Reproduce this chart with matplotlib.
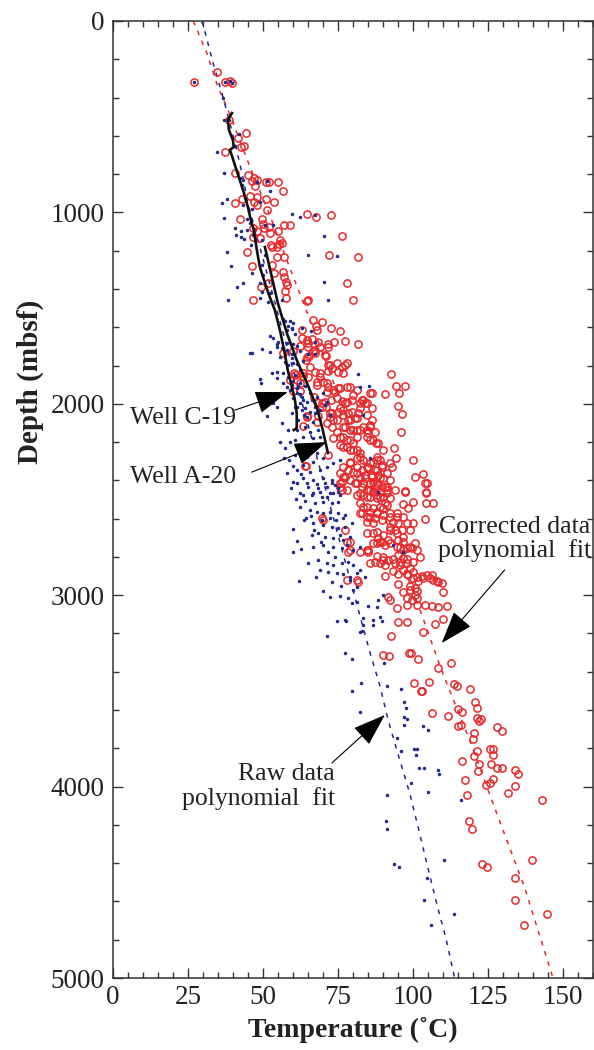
import numpy as np
import matplotlib
matplotlib.use('Agg')
import matplotlib.pyplot as plt
from matplotlib.ticker import MultipleLocator

plt.rcParams['font.family'] = ['Liberation Serif', 'DejaVu Serif']

# corrected data (temperature C, depth mbsf)
corrected = [
    (27,319),(34.7,266),(37.3,319),(39,313),(39.7,324),(38.7,517),(44.3,585),(41.7,611),(42.7,658),(43.7,653),
    (37.3,684),(40.7,794),(45,805),(46.3,836),(47,820),(48,831),(51,841),(52,841),(55,841),(47.3,862),
    (56.7,888),(45.7,914),(48,920),(51,930),(40.7,951),(43,930),(47,946),(48,961),(53.7,946),(51.3,988),
    (42.3,1035),(49.7,1035),(50,1061),(57,1066),(59,1066),(64.7,1008),(67.7,1024),(72.7,1014),(76.3,1123),
    (46.7,1082),(48,1097),(50.3,1082),(52,1076),(55,1097),(52.3,1108),(46.7,1129),(49,1134),(55.7,1144),
    (56.3,1160),(55.3,1165),(52.7,1170),(53,1181),(54.7,1181),(44.7,1207),(54.7,1233),(57,1233),(72,1223),
    (81.7,1233),(56.7,1312),(57,1338),(57.7,1364),(58,1380),(57.3,1411),(57.7,1448),(65,1458),(78,1369),
    (80,1458),(66.7,1562),(67.7,1594),(68,1615),(69.7,1573),(72.7,1604),(75.7,1620),(63,1615),(63,1656),
    (64.7,1667),(66.3,1662),(65,1683),(68.3,1677),(62.3,1698),(65,1703),(71.7,1688),(71.7,1703),(73.7,1677),
    (77.3,1672),(81.7,1688),(60,1724),(66.7,1724),(65.3,1750),(71,1750),(56.7,1735),(46.3,1280),(53,1275),
    (53.7,1317),(49.3,1390),(51.7,1369),(46.7,1458),(64.7,1463),(69,1703),(67.3,1719),(64.3,1771),(78,1787),
    (77.3,1797),(76.3,1808),(72.3,1797),(73,1813),(71.7,1829),(75,1834),(76.7,1839),(60.3,1839),(61.3,1876),
    (67.3,1834),(69,1860),(70,1886),(71.3,1891),(71.7,1912),(68,1886),(68,1902),(62.3,1891),(63.3,1855),
    (73.3,1928),(74,1938),(75,1918),(78,1912),(67,1965),(68,1991),(69.7,1996),(71,2017),(72.7,1980),
    (74.7,1970),(76.3,1986),(78,1991),(73,2048),(75,2043),(76.7,2033),(78.3,2048),(64.7,2064),(68.3,2064),
    (92.7,1844),(94.3,1907),(97.3,1907),(95.3,1944),(90.7,1949),(86.3,1944),(95,2012),(96.3,2053),(96,2147),
    (93.7,2231),(94.3,2283),(100,2294),(103.3,2367),(100.7,2383),(104.7,2414),(97.3,2456),(104.3,2461),
    (93,2330),(79,1912),(81.3,1928),(80,1954),(83,1980),(84.7,1996),(82.3,1996),(86.3,2085),(85.7,2111),
    (84.7,2137),(85,2152),(85.7,2189),(87.7,2205),(79.7,2043),(81.7,2048),(80.7,2074),(78.3,2085),
    (77.3,2121),(80,2137),(82.3,2137),(81.3,2174),(79,2189),(76.7,2174),(74.7,2147),(73.3,2179),(75.7,2215),
    (78,2226),(80,2241),(82.3,2257),(81.3,2283),(79,2304),(76.7,2330),(78.3,2346),(81.3,2362),(83,2346),
    (84.7,2330),(86.7,2304),(88,2278),(89,2294),(89.7,2320),(88,2346),(86.3,2372),(84,2388),(86.7,2409),
    (89,2388),(87.3,2435),(85,2451),(83,2435),(80.7,2414),(82.3,2466),(84.7,2487),(88,2477),(90.7,2435),
    (91.3,2466),(77.3,2383),(75.7,2362),(76.3,2409),(70.7,1991),(69.7,2017),(72.3,2048),(73.3,2085),
    (71.3,2101),(73,2121),(92.3,2309),(92.3,2398),(64.7,2069),(68,2095),(64.3,2325),(71.7,2268),(75.7,2414),
    (76.3,2451),(81.3,2477),(83.3,2477),(85.7,2451),(88,2425),(89,2487),(91.3,2435),(90.7,2519),(94,2451),
    (97.3,2461),(104,2414),(104.3,2466),(104.3,2519),(106.7,2519),(100,2513),(96.7,2524),(98.3,2545),
    (104,2602),(83.3,2540),(85.7,2566),(83,2571),(85.7,2592),(88,2566),(87.3,2597),(90,2545),(84.7,2618),
    (86.7,2623),(89.7,2607),(92.3,2571),(94.7,2592),(93.3,2618),(95,2623),(92.3,2644),(94,2660),(96.3,2660),
    (98,2623),(100,2623),(96.7,2592),(99,2660),(86.7,2675),(88.3,2701),(90,2686),(91.7,2712),(88,2727),
    (90.7,2738),(89.7,2722),(95,2712),(96.7,2722),(95.7,2748),(98,2753),(99.7,2753),(100.7,2727),(101.3,2764),
    (95,2790),(96.7,2806),(94,2832),(95.7,2842),(98,2832),(96.7,2868),(99,2858),(100,2879),(98.3,2895),
    (101.3,2905),(103,2900),(104.7,2895),(106.3,2895),(106.7,2921),(108.3,2931),(90,2816),(91.7,2816),
    (90.7,2842),(89,2832),(85.7,2832),(87.3,2827),(90.7,2900),(84.7,2764),(85,2774),(79,2722),(78.3,2774),
    (77.3,2660),(70,2607),(81.3,2921),(81.7,2931),(96.7,2984),(99,2973),(100.7,2963),(100.7,2999),(98,3015),
    (99.7,3025),(101.3,3015),(110,2984),(91.7,3010),(92.3,3025),(94.7,3067),(98,3051),(101.3,3051),(104,3051),
    (106.3,3057),(108.3,3062),(111.3,3057),(95,3140),(98,3140),(103.3,3192),(107.3,3151),(110,3124),
    (92.7,3213),(90,3313),(92,3318),(98.7,3302),(99.3,3302),(101.7,3334),(112.7,3354),(108.3,3380),
    (100.3,3459),(102.7,3501),(103,3501),(105.3,3454),(113.7,3464),(114.7,3475),(119,3490),(120.7,3558),
    (121.3,3590),(115,3595),(116.3,3610),(106.3,3616),(111.7,3631),(121.3,3642),(122,3658),(122.7,3647),
    (115,3684),(116,3678),(128,3689),(129.7,3710),(120.3,3720),(120,3752),(121.3,3814),(125.7,3804),
    (126.7,3804),(126.7,3835),(120.3,3840),(116.3,3866),(122,3882),(121.7,3919),(126,3882),(128,3903),
    (129.7,3903),(134.3,3913),(135,3934),(117.3,3966),(126.7,3960),(125.7,3981),(124.3,3992),(134,3997),
    (131.7,4034),(118,4044),(143,4070),(118.7,4180),(119.7,4222),(123,4405),(124.7,4420),(139.7,4384),
    (134.3,4478),(134.3,4593),(144.7,4666),(137.3,4723),
    (64.7,1756),(67.3,1735),(70.7,1745),(65.7,1808),(69,1839),(71.7,1797),(74.7,1787),(63.3,1839),(65,1860),
    (75.7,1918),(71.3,1938),(83.3,1980),(79.7,1980),(77.3,1996),(75.7,2022),(85.7,1944),(84,1996),(82.3,2022),
    (86.3,2022),(84.7,2059),(72.3,2069),(74.7,2085),(76.7,2059),(79,2085),(81.3,2074),(76.7,2121),(79,2137),
    (81.3,2137),(83.3,2121),(85.7,2121),(87.3,2147),(84.7,2174),(86.7,2189),(88.3,2205),(90,2241),(75.7,2174),
    (78,2189),(80,2205),(76.7,2226),(79,2241),(81.3,2241),(82.3,2278),(83.3,2294),(85.7,2309),(88,2294),
    (85,2335),(87.3,2346),(89.7,2330),(84,2372),(86.3,2383),(88.3,2372),(90,2388),(91.3,2362),(79,2309),
    (81.3,2330),(80,2356),(82.3,2388),(79,2398),(81.3,2414),(76.7,2383),(83.3,2414),(85.7,2414),(88,2414),
    (89.7,2435),(84.7,2451),(86.7,2461),(89,2461),(91.3,2451),(85.7,2487),(88,2492),(90,2487),(92.3,2492),
    (75.7,2435),(78,2451),(82.3,2519),(84.7,2540),(86.7,2545),(89,2540),(91.3,2529),(82.3,2571),(84.7,2592),
    (88,2571),(90,2581),(92.3,2592),(94.7,2571),(84.7,2675),(88,2670),(92.3,2660),(94.7,2675),(96.7,2696),
    (86.7,2727),(89,2722),(92.3,2727),(94.7,2748),(96.7,2764),(99,2748),(88,2796),(90,2801),(93.3,2811),
    (95.7,2827),(98,2811),(100,2827),(102.3,2801),(79,2764),(82.3,2774),(85,2764),(93.3,2874),(95,2889),
    (98,2889),(100,2910),(101.7,2926),(103.3,2910),(105.7,2910),(108,2926),(109.7,2937),(95,2942),(99,2952),
    (101.3,2978),(78,2921),(78,2722),(69.7,2597),(64,2325),(63.3,2116),(59,1876),(60.7,1850),(62.3,1933),
    (60,1933),
]

# raw data (temperature C, depth mbsf)
raw = [
    (27,319),(37.3,319),(39,313),(39.7,324),(38.7,517),(36.7,402),(37,517),(34.7,684),(42,590),(40.7,653),
    (37,794),(42.3,820),(43.3,831),(43,857),(48,841),(51.3,836),(38,930),(36.3,951),(44,925),(43.3,961),
    (49,946),(52.3,888),(46.3,982),(37,1029),(44.7,1035),(45.7,1055),(40.7,1082),(42.7,1097),(41,1118),
    (42.7,1129),(43.7,1139),(46,1170),(46.7,1118),(47.3,1144),(44.7,1092),(50.7,1066),(53.3,1066),(49.7,1144),
    (59.7,1008),(62.3,1024),(67.3,1014),(70.3,1123),(65,1223),(74.7,1228),(38,1207),(70.3,1364),(71.7,1458),
    (56.3,1458),(60,1578),(57.3,1568),(58.3,1594),(58,1615),(63,1604),(66,1620),(67.3,1677),(58,1683),
    (61.3,1698),(59.7,1740),(56.7,1709),(39.3,1280),(46.3,1317),(49.7,1275),(50,1327),(49,1369),(49.7,1416),
    (50.7,1223),(43.3,1369),(41.3,1390),(38.3,1458),(49,1448),(51.7,1468),(52.3,1421),(56.7,1557),(59,1568),
    (59.7,1609),(53.3,1656),(55,1677),(54.7,1703),(56.3,1709),(58,1719),(46.3,1735),(49.7,1714),(52.3,1729),
    (55.7,1756),(57.3,1782),(58.3,1797),(60,1787),(54.7,1834),(56.7,1839),(58.3,1860),(60.7,1850),(62.3,1824),
    (49,1871),(49.3,1891),(53,1839),(54.7,1865),(56.7,1891),(58,1912),(59.7,1902),(61.3,1918),(59,1928),
    (62.3,1891),(61.3,1944),(63,1965),(60,1970),(62.3,1996),(64.7,1991),(64,2022),(61.3,2017),(59.7,2048),
    (51.3,2064),(54.7,2017),(53.3,1996),(63.7,2059),(65.7,2043),(67.3,2017),(67.3,2048),(69,2033),(70.7,2007),
    (72.3,2059),(52.3,1645),(54.7,1688),(45.7,1735),(56.3,2101),(55.7,2200),(57.3,2231),(59.7,1604),
    (60.7,1635),(60,1688),(62.3,1724),(59.7,1761),(61.3,1792),(63.3,1777),(65,1740),(67.3,1740),(60,1881),
    (61.7,1907),(64,1907),(65.7,1944),(62.3,1949),(63.3,1980),(66.3,1980),(68,1965),(70,1944),(71.3,1991),
    (60.7,2017),(63,2033),(68,2043),(64.7,2069),(61.7,2085),(66.7,2095),(64,2121),(61.3,2137),(65.7,2147),
    (68.3,2137),(63.3,2174),(66.7,2179),(69,2174),(60.7,2189),(62.3,2231),(60.7,2268),(64.7,2278),(68,2257),
    (70,2283),(66.7,2304),(63.3,2320),(61.3,2346),(65.7,2356),(69,2346),(71.3,2330),(73.3,2309),(75.7,2294),
    (63.3,2388),(66.7,2398),(70,2388),(73,2398),(61.3,2414),(65,2435),(68.3,2440),(71.3,2435),(74,2425),
    (62.3,2466),(66.3,2477),(69.7,2487),(72.3,2466),(75,2461),(81.7,1844),(82.3,1912),(85.3,1907),(83.3,2059),
    (85.7,2283),(88.3,2461),(60,2409),(64.7,2414),(68,2419),(70.7,2414),(73,2414),(75,2440),(63.3,2477),
    (66.7,2466),(69,2461),(71.3,2487),(73.3,2466),(75.7,2477),(67.3,2519),(70,2513),(73,2519),(75,2513),
    (65.7,2555),(68,2566),(70,2571),(72.3,2566),(75,2571),(77.3,2581),(69.7,2607),(72.3,2597),(74.3,2607),
    (76.7,2597),(66.7,2623),(70,2633),(73,2644),(75,2649),(77.3,2644),(79.7,2623),(60,2654),(61.3,2717),
    (60,2774),(62.7,2759),(66.3,2686),(68.3,2675),(70.7,2696),(73.3,2701),(75.7,2686),(76.7,2712),(79,2696),
    (66.7,2748),(70,2738),(73.3,2748),(76.3,2753),(78,2738),(80,2764),(82.3,2748),(68.3,2816),(71.3,2832),
    (73.3,2842),(76.3,2832),(78.3,2827),(80,2842),(82.3,2868),(71.7,2879),(74.7,2884),(76.7,2889),(79,2905),
    (81.3,2884),(84,2905),(62,2926),(79,2921),(81.3,2957),(80,2973),(72.3,3010),(75.7,3004),(78.3,3015),
    (79.7,3041),(81.3,3036),(85,3057),(88,3062),(90,2999),(88.3,3025),(74.7,3135),(77.3,3130),(83.3,3119),
    (83.3,3156),(86.7,3130),(89,3114),(71.3,3213),(82.3,3192),(93.3,2738),(96.7,2774),(77.7,3135),(83,3187),
    (86.7,3156),(89.7,3135),(77.3,3302),(79.7,3334),(82.7,3459),(79.7,3501),(90.3,3354),(91.3,3475),(96,3490),
    (82.3,3610),(97,3558),(97.7,3590),(97,3636),(98,3647),(97,3678),(103.3,3684),(105,3704),(94.7,3746),
    (96,3814),(100.3,3804),(101.3,3804),(101,3835),(102,3903),(103.7,3903),(108.3,3913),(108.7,3934),
    (99.3,3981),(105,4028),(91.3,4044),(116,4070),(91,4180),(91.3,4222),(93.7,4405),(95.3,4420),(110.3,4384),
    (104.7,4478),(103.7,4593),(113.7,4666),(106,4723),
    (58.7,2294),(60,2325),(62.7,2367),(59.3,2440),(61,2498),(64,2508),(62.3,2540),(66,2586),(63.7,2607),
    (58,2362),(57,2283),(59,2200),(58.3,2137),(64.3,2597),(67,2660),(69.3,2722),(71.7,2774),(74,2800),
    (69,2868),(73,2931),(76,2952),(65,2832),(67.7,2905),(70,2978),
]

# polynomial fits
corr_fit_depth = [0, 167, 345, 465, 742, 1014, 1290, 1520, 3114, 3407, 3757, 4138, 4525, 5000]
corr_fit_temp = [26.8, 31.3, 35, 38.4, 45.2, 52.3, 59, 64.7, 103.3, 110, 119, 128, 137.3, 146.8]
raw_fit_depth = [0, 63, 220, 402, 637, 820, 951, 3067, 3297, 3469, 3652, 3825, 4034, 4211, 4420, 4629, 4786, 5000]
raw_fit_temp = [29.6, 30.8, 33.4, 36.8, 40.7, 43.4, 45, 81.7, 85.7, 89, 91.8, 95, 99, 101.8, 105, 108.3, 111, 114]

# well temperature logs
c19_temp = [39.7, 38.3, 38.7, 40, 40.3, 39, 39.7, 41, 42.3, 43.7, 45, 46, 47, 48, 49, 50.7, 52.3, 54, 55.7,
            57.3, 58.3, 59.7, 60.7, 61.3, 61.3, 60.3]
c19_depth = [481, 517, 570, 622, 658, 674, 705, 768, 831, 899, 972, 1040, 1092, 1197, 1285, 1369, 1442, 1510,
             1615, 1735, 1824, 1912, 1980, 2048, 2127, 2137]
a20_temp = [50.7, 53, 55, 58, 61.3, 64.7, 68, 70, 71.7]
a20_depth = [1181, 1338, 1473, 1630, 1771, 1891, 2017, 2137, 2257]

corr = np.array(corrected)
rw = np.array(raw)

red = '#e8292b'
blue = '#222a8c'
txt = '#222222'

fig = plt.figure(figsize=(5.94, 10.5), dpi=100)
ax = fig.add_axes([113/594, 1-978/1050, 479.5/594, 957/1050])

ax.plot(corr_fit_temp, corr_fit_depth, color=red, ls=(0, (3, 4)), lw=1.1, zorder=1)
ax.plot(raw_fit_temp, raw_fit_depth, color=blue, ls=(0, (3, 4)), lw=1.1, zorder=1)
ax.plot(corr[:, 0], corr[:, 1], 'o', mfc='none', mec=red, ms=5.2, mew=1.1, ls='none', zorder=2)
ax.plot(rw[:, 0], rw[:, 1], '.', color=blue, ms=3, ls='none', zorder=3)
ax.plot(c19_temp, c19_depth, color='#111111', lw=1.9, zorder=4)
ax.plot(a20_temp, a20_depth, color='#111111', lw=1.9, zorder=4)

ax.set_xlim(0, 160)
ax.set_ylim(5000, 0)
ax.xaxis.set_major_locator(MultipleLocator(25))
ax.xaxis.set_minor_locator(MultipleLocator(5))
ax.yaxis.set_major_locator(MultipleLocator(1000))
ax.yaxis.set_minor_locator(MultipleLocator(200))
ax.tick_params(which='both', direction='in', top=True, right=True, colors='#333333',
               labelcolor=txt, labelsize=19.5, width=1.0)
ax.tick_params(which='major', length=7)
ax.tick_params(axis='x', which='major', pad=5)
ax.tick_params(axis='y', which='major', pad=6)
ax.tick_params(which='minor', length=4)
for s in ax.spines.values():
    s.set_linewidth(1.1)
    s.set_color('#333333')

ax.set_xlabel('Temperature (˚C)', fontsize=20, fontweight='bold', color=txt, labelpad=5)
fig.text(30/594, 1-382/1050, 'Depth (mbsf)', rotation=90, fontsize=21, fontweight='bold',
         color=txt, ha='center', va='center')

arr = dict(arrowstyle='-|>,head_length=1.3,head_width=0.45', mutation_scale=16,
           color='k', lw=0.8, shrinkA=0, shrinkB=0)
fs = 18.5
ax.text(5.7, 2074, 'Well C-19', fontsize=fs, color=txt, ha='left', va='center')
ax.annotate('', xy=(58.3, 1939), xytext=(40.7, 2033), arrowprops=arr)
ax.text(5.7, 2383, 'Well A-20', fontsize=fs, color=txt, ha='left', va='center')
ax.annotate('', xy=(71.3, 2200), xytext=(46.3, 2357), arrowprops=arr)
ax.text(134, 2644, 'Corrected data', fontsize=fs, color=txt, ha='center', va='center')
ax.text(134, 2769, 'polynomial  fit', fontsize=fs, color=txt, ha='center', va='center')
ax.annotate('', xy=(109.7, 3250), xytext=(130.7, 2868), arrowprops=arr)
ax.text(74, 3934, 'Raw data', fontsize=fs, color=txt, ha='right', va='center')
ax.text(74, 4060, 'polynomial  fit', fontsize=fs, color=txt, ha='right', va='center')
ax.annotate('', xy=(90.7, 3626), xytext=(73, 3877), arrowprops=arr)

fig.savefig('out.png', dpi=100)
